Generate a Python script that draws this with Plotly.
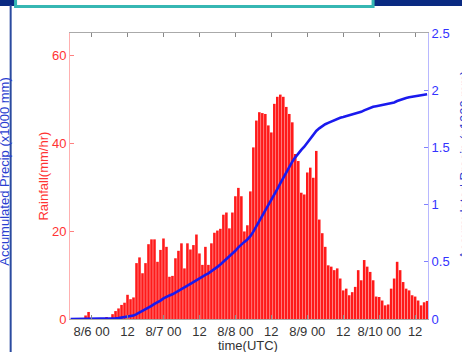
import numpy as np
import plotly.graph_objects as go

# hours relative to 8/6 00 UTC
hours = list(range(-7, 113))
rain = [
    0, 0, 0, 0, 0,                      # -7..-3
    0.8, 1.6,                           # -2,-1
    0, 0, 0, 0, 0, 0.3, 0,              # 0..6
    1.1, 1.8, 2.4, 3.2, 3.7, 5.5, 4.5, 4.9,   # 7..14
    12.7, 14.0, 10.4, 12.7, 17.0, 18.1, 18.1, 13.0,  # 15..22
    15.7, 18.3, 16.4, 9.6, 9.8,         # 23..27
    13.8, 15.5, 17.2, 11.5, 17.2, 15.8, 16.8, 19.2,  # 28..35
    14.9, 12.3, 16.4, 12.3, 17.2, 19.6,  # 36..41
    20.1, 20.5, 23.7, 24.2, 20.6, 24.2, 27.9, 29.8,  # 42..49
    27.9, 19.9, 21.3, 29.0, 39.0, 45.1,  # 50..55
    47.0, 46.8, 46.6, 44.0, 42.4, 48.9, 50.5, 51.0,  # 56..63
    50.5, 48.2, 46.6, 44.7, 37.5, 35.9, 28.7, 28.3,  # 64..71
    33.3, 34.4, 32.1, 38.2, 22.6, 19.5, 16.4, 12.2,  # 72..79
    11.9, 11.1, 11.5, 9.2, 6.5, 6.9, 5.4, 6.1,       # 80..87
    7.3, 11.1, 8.8, 13.4, 11.9, 10.7, 8.8, 5.1,      # 88..95
    5.0, 4.2, 3.1, 3.3, 6.9, 9.2, 13.0, 11.1,        # 96..103
    8.4, 6.9, 6.5, 5.4, 5.1, 4.2, 3.1, 3.8, 4.1,     # 104..112
]
accum = list(np.cumsum(rain) / 1000.0)   # accumulated precip (x1000 mm)

xtick_vals = [0, 12, 24, 36, 48, 60, 72, 84, 96, 108]
xtick_text = ["8/6 00", "12", "8/7 00", "12", "8/8 00", "12", "8/9 00", "12", "8/10 00", "12"]
ytick_left = [0, 20, 40, 60]
ytick_right = [0, 0.5, 1, 1.5, 2, 2.5]
ytick_right_text = ["0", "0.5", "1", "1.5", "2", "2.5"]

FONT = "Liberation Sans, Arial, sans-serif"
RED = "#ff3333"
BLUE = "#3333ff"

W, H = 462, 352
L, R, T, B = 70, 27, 33, 33
PW, PH = W - L - R, H - T - B

def px(x):
    return (x - L) / PW

def py(y):
    return (H - B - y) / PH

fig = go.Figure()
fig.add_trace(go.Bar(x=hours, y=rain, marker=dict(color="#ff1a1a", line=dict(width=0)),
                     yaxis="y", showlegend=False))
fig.add_trace(go.Scatter(x=hours, y=accum, mode="lines", line=dict(color="#1a1aee", width=2.6),
                         yaxis="y2", showlegend=False))

fig.update_layout(
    width=W, height=H,
    margin=dict(l=L, r=R, t=T, b=B, pad=0),
    paper_bgcolor="white", plot_bgcolor="white",
    bargap=0.14,
    font=dict(family=FONT, size=13),
    xaxis=dict(range=[-7.2, 112.3], tickvals=xtick_vals, ticktext=xtick_text,
               ticks="inside", ticklen=4, tickcolor="#888888", showline=True,
               linecolor="#aaaaaa", linewidth=1, mirror="ticks", showgrid=False,
               zeroline=False, tickfont=dict(color="#333333", size=13)),
    yaxis=dict(range=[0, 65], tickvals=ytick_left, ticks="inside", ticklen=4,
               tickcolor="#ff8080", showline=True, linecolor="#ffb0b0", linewidth=1,
               showgrid=False, zeroline=False, tickfont=dict(color=RED, size=13)),
    yaxis2=dict(range=[0, 2.5], tickvals=ytick_right, ticktext=ytick_right_text,
                overlaying="y", side="right", ticks="inside", ticklen=4,
                tickcolor="#8080ff", showline=True, linecolor="#b8b8ff", linewidth=1,
                showgrid=False, zeroline=False, tickfont=dict(color=BLUE, size=13)),
    shapes=[
        # navy band at top
        dict(type="rect", xref="paper", yref="paper", x0=px(-5), x1=px(470),
             y0=py(6), y1=py(-5), fillcolor="#0a2a82", line=dict(width=0), layer="above"),
        # teal box outline
        dict(type="rect", xref="paper", yref="paper", x0=px(14.5), x1=px(379),
             y0=py(6.5), y1=py(-12), fillcolor="white",
             line=dict(color="#36b7b3", width=3), layer="above"),
        # vertical dark line on left
        dict(type="line", xref="paper", yref="paper", x0=px(9.5), x1=px(9.5),
             y0=py(5), y1=py(360), line=dict(color="#2b4ba0", width=2), layer="above"),
    ],
    annotations=[
        dict(text="Rainfall(mm/hr)", xref="paper", yref="paper", x=px(42), y=py(176),
             textangle=-90, showarrow=False, font=dict(color=RED, size=13, family=FONT),
             xanchor="center", yanchor="middle"),
        dict(text="time(UTC)", xref="paper", yref="paper", x=px(251), y=py(345),
             showarrow=False, font=dict(color="#333333", size=13, family=FONT),
             xanchor="center", yanchor="middle"),
        dict(text="Accumulated Precip (x1000 mm)", xref="paper", yref="paper",
             x=px(2.5), y=py(171), textangle=-90, showarrow=False,
             font=dict(color="#2a3fd0", size=13, family=FONT),
             xanchor="center", yanchor="middle"),
        dict(text="Accumulated Precip (x1000 mm)", xref="paper", yref="paper",
             x=px(472), y=py(165), textangle=-90, showarrow=False,
             font=dict(color="#2a3fd0", size=13, family=FONT),
             xanchor="center", yanchor="middle"),
    ],
)

fig.write_html("out.html", config={"displayModeBar": False},
               post_script="document.body.style.margin='0';document.body.style.overflow='hidden';")
